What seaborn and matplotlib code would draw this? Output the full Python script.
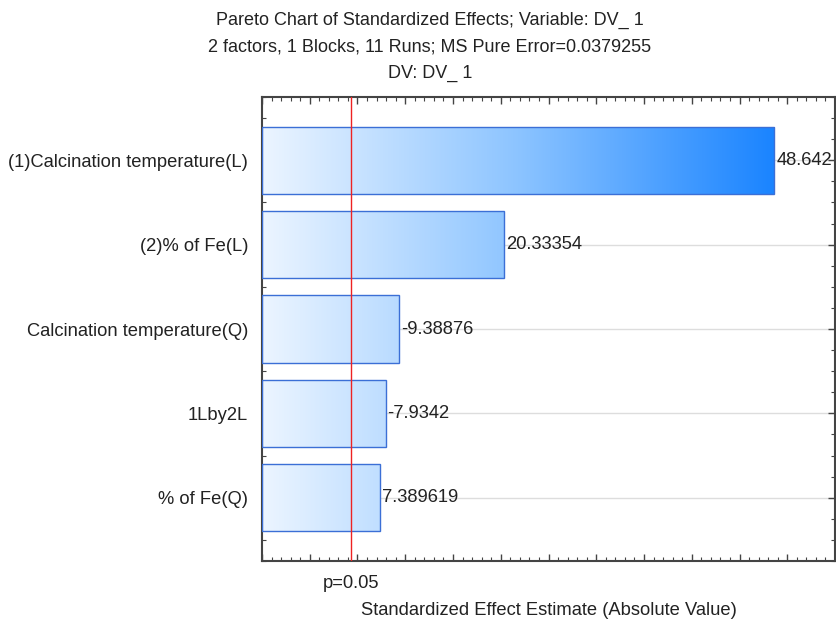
import numpy as np
import pandas as pd
import matplotlib
matplotlib.use("Agg")
import matplotlib.pyplot as plt
from matplotlib.colors import LinearSegmentedColormap
from matplotlib.ticker import MultipleLocator, NullFormatter, FixedLocator
import matplotlib.transforms as mtransforms
import seaborn as sns

factors = ["(1)Calcination temperature(L)", "(2)% of Fe(L)",
           "Calcination temperature(Q)", "1Lby2L", "% of Fe(Q)"]
effects = [48.642, 20.33354, -9.38876, -7.9342, 7.389619]
p_critical = 4.303
title_lines = ["Pareto Chart of Standardized Effects; Variable: DV_ 1",
               "2 factors, 1 Blocks, 11 Runs; MS Pure Error=0.0379255",
               "DV: DV_ 1"]
xlabel = "Standardized Effect Estimate (Absolute Value)"

sns.set_theme(style="white")
plt.rcParams["font.family"] = ["Liberation Sans", "DejaVu Sans"]

FS = 13.2

df = pd.DataFrame({"factor": factors, "effect": effects})
df["abs_effect"] = df["effect"].abs()

fig = plt.figure(figsize=(8.37, 6.21), dpi=100)
ax = fig.add_axes([262/837, 1-561/621, (835-262)/837, (561-97)/621])

sns.barplot(data=df, y="factor", x="abs_effect", orient="h", ax=ax,
            color="white", width=0.8, edgecolor="#3b6fd6", linewidth=1.0,
            saturation=1, zorder=2)

xmin, xmax = -5, 55
ax.set_xlim(xmin, xmax)
ax.set_ylim(4.75, -0.75)

cmap = LinearSegmentedColormap.from_list("g", ["#ecf5ff", "#8cc4ff", "#1a84ff"])
grad = np.linspace(0, 1, 256).reshape(1, -1)
gmax = df["abs_effect"].max()
for p in ax.patches:
    # bars are drawn from the left edge of the axis (Statistica style)
    right = p.get_x() + p.get_width()
    p.set_x(xmin)
    p.set_width(right - xmin)
    y0, h = p.get_y(), p.get_height()
    im = ax.imshow(grad, cmap=cmap, aspect="auto",
                   extent=[xmin, gmax, y0 + h, y0], zorder=1.5,
                   interpolation="bilinear")
    im.set_clip_path(p)
    p.set_facecolor("none")
    p.set_zorder(3)
ax.set_xlim(xmin, xmax)
ax.set_ylim(4.75, -0.75)

for i in range(len(factors)):
    ax.axhline(i, color="#dddddd", lw=1.0, zorder=0.5)

ax.axvline(p_critical, color="#ee2222", lw=1.0, zorder=4)

for i, v in enumerate(effects):
    ax.text(abs(v) + 0.2, i, format(v, ".7g"), va="center", ha="left",
            fontsize=FS, color="#222222", zorder=5, clip_on=False)

ax.xaxis.set_major_locator(MultipleLocator(5))
ax.xaxis.set_minor_locator(MultipleLocator(1))
ax.xaxis.set_major_formatter(NullFormatter())
ax.yaxis.set_minor_locator(FixedLocator(np.arange(-0.75, 4.8, 0.25)))
ax.tick_params(axis="both", which="both", direction="in", color="#444444",
               top=True, bottom=True, left=True, right=True)
ax.tick_params(axis="both", which="major", length=5, width=1)
ax.tick_params(axis="both", which="minor", length=3, width=0.8)
ax.tick_params(axis="y", which="major", labelsize=FS, pad=10, labelcolor="#222222")
ax.set_ylabel("")
ax.set_xlabel(xlabel, fontsize=FS, color="#222222", labelpad=26)

trans = mtransforms.blended_transform_factory(ax.transData, ax.transAxes)
ax.text(p_critical, -0.03, "p=0.05", transform=trans, ha="center", va="top",
        fontsize=FS, color="#222222")

for s in ax.spines.values():
    s.set_color("#444444")
    s.set_linewidth(1.5)

for k, line in enumerate(title_lines):
    fig.text(430/837, 1 - (20 + 26.5*k)/621, line, ha="center", va="center",
             fontsize=13, color="#222222")

fig.savefig("out.png", dpi=100)
